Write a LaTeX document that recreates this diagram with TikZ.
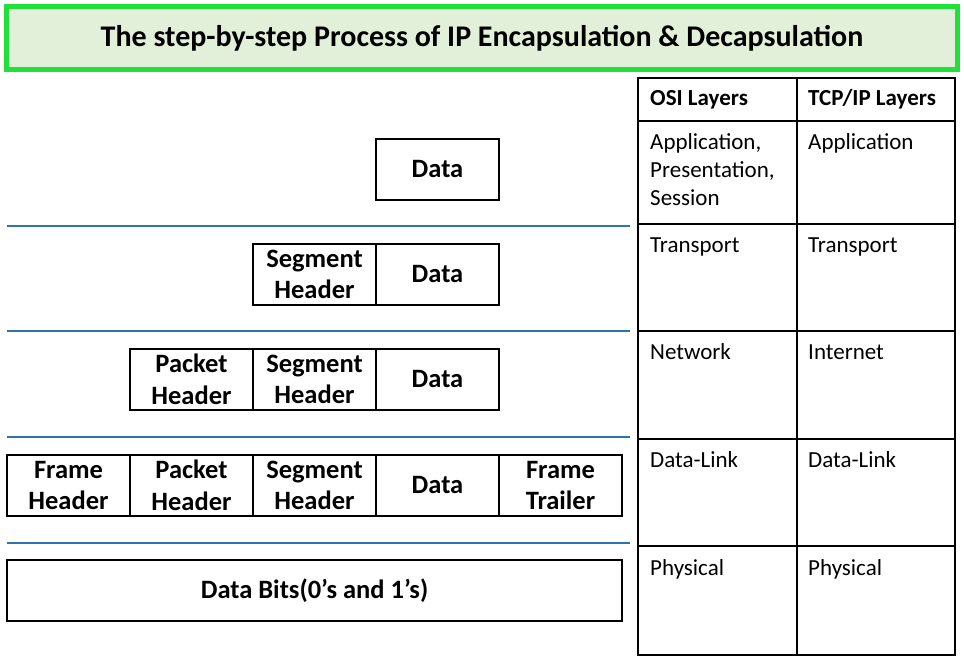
\documentclass[tikz,border=0pt]{standalone}
\usepackage{fontspec}
\setmainfont{Carlito}
\definecolor{titlegreen}{RGB}{34,224,58}
\definecolor{titlefill}{RGB}{226,239,217}
\definecolor{sepblue}{RGB}{46,117,170}
\tikzset{
  cell/.style={draw=black, line width=2.6pt, fill=white, minimum height=61pt, inner sep=0pt,
     align=center, font=\fontsize{26.5}{31.5}\selectfont\bfseries},
  sepline/.style={draw=sepblue, line width=2.4pt},
  grid/.style={draw=black, line width=2.6pt},
  tabtxt/.style={anchor=north west, inner sep=0pt, align=left, font=\fontsize{23}{28}\selectfont,
     execute at begin node={\strut}},
  tabhead/.style={anchor=west, inner sep=0pt, font=\fontsize{23}{28}\selectfont\bfseries},
}
\begin{document}
\begin{tikzpicture}[x=1pt,y=-1pt]
\useasboundingbox (0,0) rectangle (964,660);
% title
\node[draw=titlegreen, line width=5pt, fill=titlefill, minimum width=951pt, minimum height=63pt, inner sep=0pt,
  font=\fontsize{30}{36}\selectfont\bfseries] (title) at (482,38.5) {The step-by-step Process of IP Encapsulation \& Decapsulation};

% separator lines
\coordinate (s1a) at (7,226); \coordinate (s1b) at (630,226);
\coordinate (s2a) at (7,331); \coordinate (s2b) at (630,331);
\coordinate (s3a) at (7,437); \coordinate (s3b) at (630,437);
\coordinate (s4a) at (7,543); \coordinate (s4b) at (630,543);
\draw[sepline] (s1a) -- (s1b);
\draw[sepline] (s2a) -- (s2b);
\draw[sepline] (s3a) -- (s3b);
\draw[sepline] (s4a) -- (s4b);

% row 1
\node[cell, minimum width=123pt] (r1d) at (437.5,169.5) {Data};
% row 2
\node[cell, minimum width=123pt] (r2s) at (314.5,274.5) {Segment\\Header};
\node[cell, minimum width=123pt] (r2d) at (437.5,274.5) {Data};
% row 3
\node[cell, minimum width=123pt] (r3p) at (191.5,379.5) {Packet\\Header};
\node[cell, minimum width=123pt] (r3s) at (314.5,379.5) {Segment\\Header};
\node[cell, minimum width=123pt] (r3d) at (437.5,379.5) {Data};
% row 4
\node[cell, minimum width=123pt] (r4f) at (68.5,485.5) {Frame\\Header};
\node[cell, minimum width=123pt] (r4p) at (191.5,485.5) {Packet\\Header};
\node[cell, minimum width=123pt] (r4s) at (314.5,485.5) {Segment\\Header};
\node[cell, minimum width=123pt] (r4d) at (437.5,485.5) {Data};
\node[cell, minimum width=123pt] (r4t) at (560.5,485.5) {Frame\\Trailer};
% row 5
\node[cell, minimum width=615pt] (r5) at (314.5,590.5) {Data Bits(0’s and 1’s)};

% table grid
\draw[grid] (638,78) rectangle (955,655);
\draw[grid] (797,78) -- (797,655);
\draw[grid] (638,121) -- (955,121);
\draw[grid] (638,224) -- (955,224);
\draw[grid] (638,331) -- (955,331);
\draw[grid] (638,439) -- (955,439);
\draw[grid] (638,546) -- (955,546);

% table texts
\node[tabhead] (h1) at (650,99.5) {OSI Layers};
\node[tabhead] (h2) at (808,99.5) {TCP/IP Layers};
\node[tabtxt] (o1) at (650,133) {Application,\\Presentation,\\Session};
\node[tabtxt] (t1) at (808,130) {Application};
\node[tabtxt] (o2) at (650,233) {Transport};
\node[tabtxt] (t2) at (808,233) {Transport};
\node[tabtxt] (o3) at (650,340) {Network};
\node[tabtxt] (t3) at (808,340) {Internet};
\node[tabtxt] (o4) at (650,448) {Data-Link};
\node[tabtxt] (t4) at (808,448) {Data-Link};
\node[tabtxt] (o5) at (650,556) {Physical};
\node[tabtxt] (t5) at (808,556) {Physical};
\end{tikzpicture}
\end{document}
